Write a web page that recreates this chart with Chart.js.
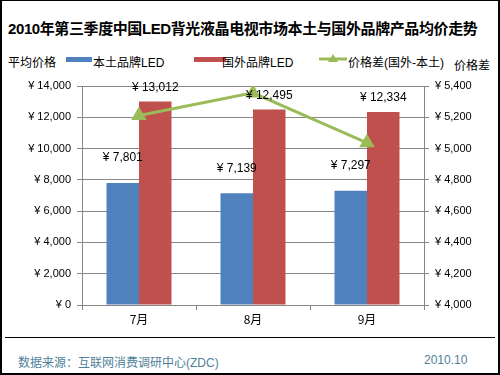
<!DOCTYPE html>
<html>
<head>
<meta charset="utf-8">
<script src="https://cdn.jsdelivr.net/npm/chart.js@4"></script>
<style>
  html, body { margin: 0; padding: 0; background: #fff; }
  #frame {
    position: relative; width: 500px; height: 375px; box-sizing: border-box;
    border: 2px solid #000; border-top-width: 1px; overflow: hidden;
    font-family: "Liberation Sans", "Noto Sans CJK SC", sans-serif;
  }
  .abs { position: absolute; white-space: nowrap; }
  #title { left: 6px; top: 16px; font-size: 15px; font-weight: bold; color: #000; letter-spacing: -0.4px; }
  .leg { font-size: 12px; color: #000; top: 52px; }
  .swatch { position: absolute; height: 5px; }
  #sep { left: 3px; right: 3px; top: 336px; height: 1px; background: #000; }
  .foot { top: 352px; font-size: 12px; color: #4f7f9a; }
  #chartWrap { position: absolute; left: 0; top: 69px; width: 496px; height: 265px; }
</style>
</head>
<body>
<div id="frame">
  <div id="title" class="abs">2010年第三季度中国LED背光液晶电视市场本土与国外品牌产品均价走势</div>

  <div class="abs leg" style="left:6px;">平均价格</div>
  <div class="swatch" style="left:64px; top:56px; width:26px; background:#4f81bd;"></div>
  <div class="abs leg" style="left:91px;">本土品牌LED</div>
  <div class="swatch" style="left:192px; top:56px; width:32px; background:#c0504d;"></div>
  <div class="abs leg" style="left:220px;">国外品牌LED</div>
  <svg class="abs" style="left:317px; top:52px;" width="28" height="12">
    <line x1="0" y1="6" x2="28" y2="6" stroke="#9bbb59" stroke-width="3"/>
    <polygon points="14,1 19,9 9,9" fill="#9bbb59"/>
  </svg>
  <div class="abs leg" style="left:346px;">价格差(国外-本土)</div>
  <div class="abs leg" style="left:452px; top:55px;">价格差</div>

  <div id="chartWrap"><canvas id="priceChart"></canvas></div>

  <div id="sep" class="abs"></div>
  <div class="abs foot" style="left:16px;">数据来源：互联网消费调研中心(ZDC)</div>
  <div class="abs foot" style="left:422px;">2010.10</div>
</div>

<script>
// Data
const months = ['7月', '8月', '9月'];
const domesticPrice = [7801, 7139, 7297];
const foreignPrice = [13012, 12495, 12334];
const priceGap = [5211, 5356, 5037];

const leftTicks = [0, 2000, 4000, 6000, 8000, 10000, 12000, 14000];
const rightTicks = [4000, 4200, 4400, 4600, 4800, 5000, 5200, 5400];

const yen = v => '¥ ' + v.toLocaleString('en-US');

// Value labels above the bars
const barLabels = {
  id: 'barLabels',
  afterDatasetsDraw(chart) {
    const ctx = chart.ctx;
    const lift = [25, 14];
    ctx.save();
    ctx.font = '12px "Liberation Sans", Arial, sans-serif';
    ctx.fillStyle = '#000';
    ctx.textAlign = 'center';
    ctx.textBaseline = 'middle';
    [0, 1].forEach(i => {
      const meta = chart.getDatasetMeta(i);
      meta.data.forEach((bar, j) => {
        ctx.fillText(yen(chart.data.datasets[i].data[j]), bar.x, bar.y - lift[i]);
      });
    });
    ctx.restore();
  }
};

const axisGray = '#868686';
const tickFont = { family: '"Liberation Sans", Arial, sans-serif', size: 11 };

new Chart(document.getElementById('priceChart').getContext('2d'), {
  type: 'bar',
  data: {
    labels: months,
    datasets: [
      {
        label: '本土品牌LED',
        data: domesticPrice,
        backgroundColor: '#4f81bd',
        yAxisID: 'y',
        order: 2,
        categoryPercentage: 0.57,
        barPercentage: 1
      },
      {
        label: '国外品牌LED',
        data: foreignPrice,
        backgroundColor: '#c0504d',
        yAxisID: 'y',
        order: 2,
        categoryPercentage: 0.57,
        barPercentage: 1
      },
      {
        type: 'line',
        label: '价格差(国外-本土)',
        data: priceGap,
        borderColor: '#9bbb59',
        backgroundColor: '#9bbb59',
        borderWidth: 3,
        pointStyle: 'triangle',
        pointRadius: 6,
        pointHoverRadius: 6,
        tension: 0,
        yAxisID: 'y1',
        order: 1
      }
    ]
  },
  options: {
    responsive: true,
    maintainAspectRatio: false,
    animation: false,
    layout: { padding: { top: 16, left: 0, right: 0, bottom: 0 } },
    plugins: {
      legend: { display: false },
      tooltip: { enabled: false }
    },
    scales: {
      x: {
        offset: true,
        grid: {
          offset: true,
          drawOnChartArea: false,
          drawTicks: true,
          tickLength: 5,
          color: axisGray
        },
        border: { color: axisGray },
        ticks: { color: '#000', font: { family: '"Noto Sans CJK SC", sans-serif', size: 12 }, padding: 2 },
        afterFit: s => { s.height = 30; }
      },
      y: {
        position: 'left',
        min: 0,
        max: 14000,
        afterBuildTicks: s => { s.ticks = leftTicks.map(v => ({ value: v })); },
        grid: { color: axisGray, tickLength: 5 },
        border: { color: axisGray },
        ticks: { color: '#000', font: tickFont, padding: 6, callback: v => yen(v) },
        afterFit: s => { s.width = 80; }
      },
      y1: {
        position: 'right',
        min: 4000,
        max: 5400,
        afterBuildTicks: s => { s.ticks = rightTicks.map(v => ({ value: v })); },
        grid: { drawOnChartArea: false, color: axisGray, tickLength: 5 },
        border: { color: axisGray },
        ticks: { color: '#000', font: tickFont, padding: 6, callback: v => yen(v) },
        afterFit: s => { s.width = 74; }
      }
    }
  },
  plugins: [barLabels]
});
</script>
</body>
</html>
